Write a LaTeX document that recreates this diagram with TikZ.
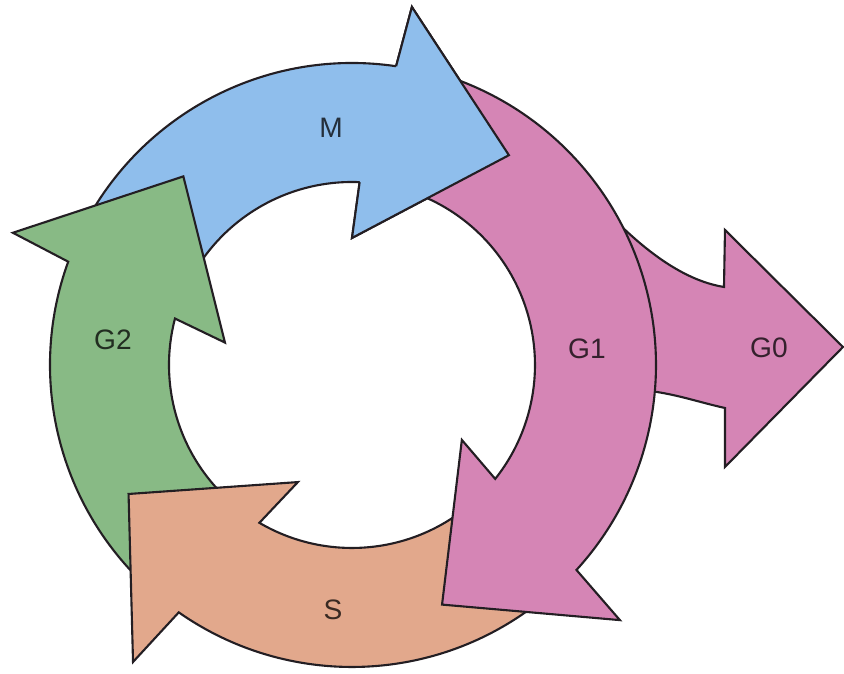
\documentclass[tikz,border=0pt]{standalone}
\usepackage{fontspec}
\setmainfont{Liberation Sans}

\definecolor{bleuM}{RGB}{143,190,236}
\definecolor{vertG}{RGB}{136,186,133}
\definecolor{saumon}{RGB}{226,168,140}
\definecolor{rose}{RGB}{213,133,181}
\definecolor{contour}{RGB}{35,30,35}

\tikzset{
    phase/.style={draw=contour,line width=0.6pt,line join=miter},
    nomphase/.style={font=\fontsize{8}{9.6}\selectfont,text=#1!25!black}
}

\begin{document}
\begin{tikzpicture}[x=0.01cm,y=0.01cm]
    \useasboundingbox (-352,-309) rectangle (492,365);

    % Dessine la sortie G0 (derrière G1)
    \filldraw[phase,fill=rose] (250,-20) -- (200,120) -- (29:300)
        .. controls (288,120) and (328,85) .. (372,78)
        -- (373,135) -- (491,18) -- (373,-102) -- (373,-43)
        .. controls (350,-38) and (330,-31) .. (305,-27) -- cycle;

    % Dessine la flèche M
    \filldraw[phase,fill=bleuM] (155:302) arc[start angle=155,end angle=81.6,radius=302]
        -- (80.5:363) -- (53.2:262) -- (90:127) -- (87.6:183)
        arc[start angle=87.6,end angle=155,radius=183] -- cycle;

    % Dessine la flèche G2
    \filldraw[phase,fill=vertG] (230:302) arc[start angle=230,end angle=160,radius=302]
        -- (158.7:364) -- (131.8:253) -- (170:129) -- (165.3:183)
        arc[start angle=165.3,end angle=230,radius=183] -- cycle;

    % Dessine la flèche S
    \filldraw[phase,fill=saumon] (310:302) arc[start angle=310,end angle=235,radius=302]
        -- (233.6:369) -- (210:258) -- (245.2:129) -- (239.6:183)
        arc[start angle=239.6,end angle=310,radius=183] -- cycle;

    % Dessine la flèche G1
    \filldraw[phase,fill=rose] (72:304) arc[start angle=72,end angle=-42.4,radius=304]
        -- (-43.6:370) -- (-69.4:256) -- (-34.3:133) -- (-38.5:183)
        arc[start angle=-38.5,end angle=72,radius=183] -- cycle;

    % Repasse la pointe de M par-dessus G1
    \fill[bleuM] (81.6:302) -- (80.5:363) -- (53.2:262) -- (90:127) -- (87.6:183) -- cycle;
    \draw[phase] (81.6:302) -- (80.5:363) -- (53.2:262) -- (90:127) -- (87.6:183);

    % Noms des phases
    \node[nomphase=bleuM] (m) at (-21,237) {M};
    \node[nomphase=vertG] (g2) at (-239,25) {G2};
    \node[nomphase=saumon] (s) at (-19,-245) {S};
    \node[nomphase=rose] (g1) at (235,16) {G1};
    \node[nomphase=rose] (g0) at (417,17) {G0};
\end{tikzpicture}
\end{document}
